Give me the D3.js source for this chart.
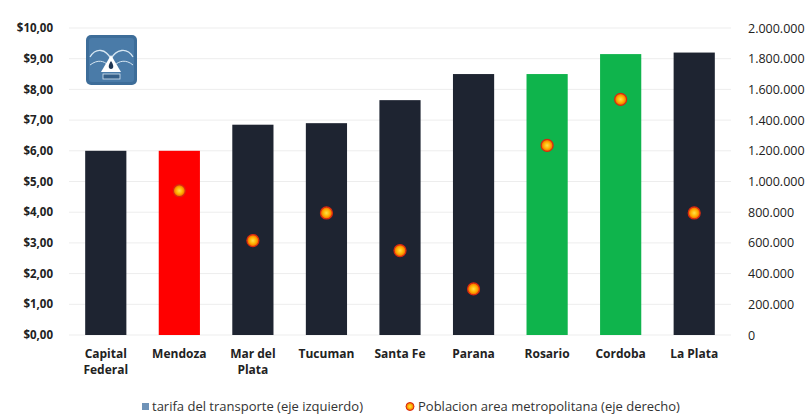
<!DOCTYPE html>
<html>
<head>
<meta charset="utf-8">
<script src="https://cdn.jsdelivr.net/npm/d3@7/dist/d3.min.js"></script>
<style>
  html, body { margin: 0; padding: 0; background: #fff; }
  svg { display: block; font-family: "Open Sans", Lato, sans-serif; }
</style>
</head>
<body>
<svg id="chart" width="809" height="417"></svg>
<script>
// Ciudades, tarifa del transporte ($) y población del área metropolitana
const ciudades = ["Capital Federal", "Mendoza", "Mar del Plata", "Tucuman", "Santa Fe", "Parana", "Rosario", "Cordoba", "La Plata"];
const tarifa = [6.00, 6.00, 6.85, 6.90, 7.65, 8.50, 8.50, 9.15, 9.20];
const poblacion = [null, 940000, 615000, 795000, 550000, 300000, 1235000, 1535000, 795000];
const grupo = ["base", "mendoza", "base", "base", "base", "base", "verde", "verde", "base"];
const ticksIzq = [0, 1, 2, 3, 4, 5, 6, 7, 8, 9, 10];
const ticksDer = [0, 200000, 400000, 600000, 800000, 1000000, 1200000, 1400000, 1600000, 1800000, 2000000];

const colores = { base: "#1e2431", mendoza: "#ff0000", verde: "#0fb44c" };

const svg = d3.select("#chart");
const plot = { left: 69, right: 731, top: 28, bottom: 335 };

const x = d3.scaleBand().domain(ciudades).range([plot.left, plot.right]).paddingInner(0.44).paddingOuter(0.22);
const yL = d3.scaleLinear().domain([0, 10]).range([plot.bottom, plot.top]);
const yR = d3.scaleLinear().domain([0, 2000000]).range([plot.bottom, plot.top]);

const fmtPeso = d => "$" + d3.format(".2f")(d).replace(".", ",");
const fmtPob = d => d3.format(",")(d).replace(/,/g, ".");

// Líneas de grilla
svg.append("g").selectAll("line").data(ticksIzq).join("line")
  .attr("x1", plot.left).attr("x2", plot.right)
  .attr("y1", d => yL(d)).attr("y2", d => yL(d))
  .attr("stroke", "#ededed").attr("stroke-width", 1);

// Eje izquierdo
const axL = svg.append("g").attr("transform", `translate(${plot.left - 14},0)`)
  .call(d3.axisLeft(yL).tickValues(ticksIzq).tickFormat(fmtPeso).tickSize(0).tickPadding(2));
axL.select(".domain").remove();
axL.selectAll("text").attr("font-family", "'Open Sans', sans-serif").attr("font-size", 11.5)
  .attr("font-weight", "bold").attr("fill", "#222");

// Eje derecho
const axR = svg.append("g").attr("transform", `translate(${plot.right + 15},0)`)
  .call(d3.axisRight(yR).tickValues(ticksDer).tickFormat(fmtPob).tickSize(0).tickPadding(2));
axR.select(".domain").remove();
axR.selectAll("text").attr("font-family", "'Open Sans', sans-serif").attr("font-size", 12.5)
  .attr("fill", "#222");

// Barras de tarifa
svg.append("g").selectAll("rect").data(ciudades).join("rect")
  .attr("x", d => x(d)).attr("width", x.bandwidth())
  .attr("y", (d, i) => yL(tarifa[i]))
  .attr("height", (d, i) => yL(0) - yL(tarifa[i]))
  .attr("fill", (d, i) => colores[grupo[i]]);

// Etiquetas de categorías
const cat = svg.append("g");
ciudades.forEach(c => {
  const partes = c === "Capital Federal" ? ["Capital", "Federal"] : c === "Mar del Plata" ? ["Mar del", "Plata"] : [c];
  const t = cat.append("text").attr("x", x(c) + x.bandwidth() / 2).attr("y", 358)
    .attr("text-anchor", "middle").attr("font-size", 12).attr("font-weight", "bold").attr("fill", "#222");
  partes.forEach((p, k) => t.append("tspan").attr("x", x(c) + x.bandwidth() / 2).attr("dy", k === 0 ? 0 : 16).text(p));
});

// Marcador de población
const defs = svg.append("defs");
const grad = defs.append("radialGradient").attr("id", "punto");
grad.append("stop").attr("offset", "0%").attr("stop-color", "#ffe14a");
grad.append("stop").attr("offset", "55%").attr("stop-color", "#ffb000");
grad.append("stop").attr("offset", "100%").attr("stop-color", "#f05a00");

const puntos = ciudades.map((c, i) => ({ c, v: poblacion[i] })).filter(d => d.v != null);
svg.append("g").selectAll("circle").data(puntos).join("circle")
  .attr("cx", d => x(d.c) + x.bandwidth() / 2).attr("cy", d => yR(d.v))
  .attr("r", 6).attr("fill", "url(#punto)").attr("stroke", "#d9280f").attr("stroke-width", 1.2);

// Logo
const logo = svg.append("g").attr("transform", "translate(86,35)");
logo.append("rect").attr("width", 51).attr("height", 50).attr("rx", 5).attr("fill", "#3d6d99");
logo.append("rect").attr("x", 3).attr("y", 3).attr("width", 45).attr("height", 44).attr("rx", 3).attr("fill", "#4a7ba8");
logo.append("path").attr("d", "M4,22 C10,12 20,14 25,24 C30,14 41,12 47,22").attr("fill", "none").attr("stroke", "#d6e6f2").attr("stroke-width", 1.3);
logo.append("path").attr("d", "M4,30 C12,24 18,26 22,30").attr("fill", "none").attr("stroke", "#d6e6f2").attr("stroke-width", 1);
logo.append("path").attr("d", "M29,30 C33,26 40,24 47,30").attr("fill", "none").attr("stroke", "#d6e6f2").attr("stroke-width", 1);
logo.append("path").attr("d", "M25,20 L35,37 L15,37 Z").attr("fill", "#ffffff");
logo.append("path").attr("d", "M25,26 C28,30 28,34 25,34 C22,34 22,30 25,26 Z").attr("fill", "#1e3552");
logo.append("rect").attr("x", 17).attr("y", 39).attr("width", 17).attr("height", 5).attr("fill", "#355f88").attr("stroke", "#d6e6f2").attr("stroke-width", 0.8);

// Leyenda
const ley = svg.append("g");
ley.append("rect").attr("x", 142).attr("y", 403).attr("width", 7).attr("height", 7).attr("fill", "#6f93b8");
ley.append("text").attr("x", 152).attr("y", 411).attr("font-size", 13).attr("fill", "#333")
  .text("tarifa del transporte (eje izquierdo)");
ley.append("circle").attr("cx", 410).attr("cy", 406.5).attr("r", 4).attr("fill", "url(#punto)").attr("stroke", "#d9280f").attr("stroke-width", 1);
ley.append("text").attr("x", 418).attr("y", 411).attr("font-size", 13).attr("fill", "#333")
  .text("Poblacion area metropolitana (eje derecho)");
</script>
</body>
</html>
